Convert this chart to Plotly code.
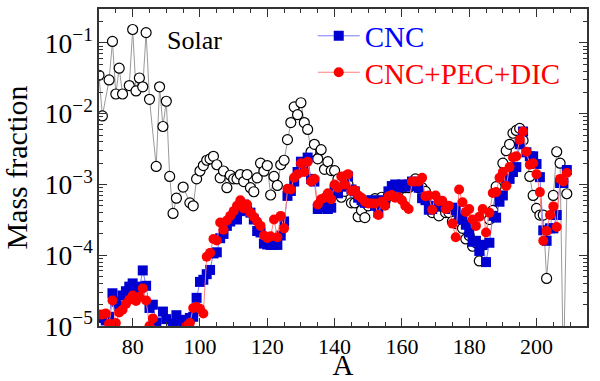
import plotly.graph_objects as go

# ---------------- data ----------------
solar_A = [70, 71, 73, 74, 75, 76, 77, 79, 80, 81, 82, 83, 84, 85, 87, 88, 89, 90, 91, 92, 93, 95, 97, 98, 99,
           100, 101, 102, 103, 104, 105, 106, 107, 108, 109, 110, 111, 112, 113, 114, 115, 116, 117, 118, 119,
           120, 121, 122, 123, 124, 125, 126, 127, 128, 129, 130, 131, 132, 133, 134, 135, 136, 137, 138, 139,
           140, 141, 142, 143, 144, 145, 146, 147, 148, 149, 150, 151, 152, 153, 154, 155, 156, 157, 158, 159,
           160, 161, 162, 163, 164, 165, 166, 167, 168, 169, 170, 171, 172, 173, 174, 175, 176, 177, 178, 179,
           180, 181, 182, 183, 184, 186, 187, 188, 190, 191, 192, 193, 194, 195, 196, 198, 199, 200, 201, 202,
           203, 205, 206, 207, 208, 209]
solar_val = [0.035, 0.0093, 0.030, 0.105, 0.019, 0.044, 0.019, 0.025, 0.155, 0.021, 0.032, 0.024, 0.14, 0.016,
             0.0018, 0.024, 0.0066, 0.015, 0.0013, 0.00039, 0.00064, 0.00092, 0.00055, 0.0005, 0.0012,
             0.00155, 0.00185, 0.0022, 0.0023, 0.0025, 0.0019, 0.00124, 0.00155, 0.0009, 0.00135, 0.0012, 0.0012,
             0.00138, 0.0011, 0.00138, 0.0009, 0.00079, 0.00124, 0.002, 0.00154,
             0.00185, 0.00071, 0.0013, 0.00097, 0.0019, 0.0022, 0.0043, 0.0075, 0.0125, 0.0097, 0.0143, 0.0075,
             0.006, 0.0029, 0.0037, 0.0023, 0.0031, 0.00164, 0.0021, 0.00157,
             0.00157, 0.0012, 0.00066, 0.0008, 0.001, 0.00055, 0.00055, 0.00035, 0.00043, 0.00034, 0.0005, 0.00055,
             0.00063, 0.00055, 0.00066, 0.00058, 0.0007, 0.0007, 0.0008, 0.0008,
             0.0009, 0.0009, 0.0009, 0.001, 0.0012, 0.0009, 0.0009, 0.0008, 0.0006, 0.0004, 0.0006, 0.00036,
             0.0005, 0.0004, 0.0004, 0.0003, 0.00028, 0.0003, 0.00024, 0.00017,
             0.00019, 0.000134, 0.00015, 0.000083, 0.000138, 0.00032, 0.00043, 0.00093, 0.002, 0.003, 0.0037,
             0.0053, 0.0058, 0.0062, 0.0042, 0.0013, 0.0007, 0.00046, 0.00037, 0.00037,
             0.000047, 0.0007, 0.0029, 0.002, 0.000002, 0.00074]

cnc_A = list(range(70, 210))
cnc_val = [1.4e-5, 1.3e-5, 1.2e-5, 1.35e-5, 2.9e-5, 2.2e-5, 1.9e-5, 2.7e-5, 3.1e-5, 3.6e-5,
           4.0e-5, 3.6e-5, 3.4e-5, 6.1e-5, 3.7e-5, 1.8e-5, 2.0e-5, 1.12e-5, 8e-6, 1.6e-5,
           1.25e-5, 8e-6, 1.08e-5, 1.42e-5, 1.22e-5, 1.1e-5, 1.22e-5, 1.3e-5, 1.35e-5, 2.5e-5,
           4.2e-5, 4.5e-5, 5.4e-5, 6.2e-5, 0.000106, 0.00011, 0.000174, 0.0002, 0.00026, 0.0003,
           0.00033, 0.00032, 0.00042, 0.00052, 0.00044, 0.0004, 0.00032, 0.00022, 0.00021, 0.000146,
           0.000142, 0.00014, 0.00014, 0.00014, 0.00019, 0.0003, 0.00069, 0.00081, 0.0011, 0.0015,
           0.0021, 0.0016, 0.0024, 0.0012, 0.0011, 0.00045, 0.00048, 0.00052, 0.00045, 0.00047,
           0.00085, 0.00075, 0.00093, 0.001, 0.0013, 0.00085, 0.0008, 0.00065, 0.0006, 0.00055,
           0.00056, 0.0006, 0.0005, 0.0004, 0.0006, 0.00055, 0.0008, 0.00095, 0.001, 0.0009,
           0.001, 0.00093, 0.001, 0.0011, 0.00095, 0.0009, 0.00064, 0.0006, 0.00044, 0.00045,
           0.0005, 0.00052, 0.0005, 0.00048, 0.00045, 0.00047, 0.00043, 0.00033, 0.00032, 0.00027,
           0.00021, 0.000155, 0.00016, 0.000115, 0.00014, 0.00008, 0.00015, 0.00036, 0.00034, 0.00057,
           0.0007, 0.00108, 0.0012, 0.0015, 0.00176, 0.0037, 0.0056, 0.00285, 0.0025, 0.0025,
           0.00195, 0.00127, 0.000225, 0.00016, 0.00024, 0.00024, 0.00037, 0.00105, 0.00105, 0.0016]

full_A = list(range(70, 210))
full_val = [1.45e-5, 1.45e-5, 1.5e-5, 1.08e-5, 2.3e-5, 1.1e-5, 1.55e-5, 1.7e-5, 2.05e-5, 2.35e-5,
            2.7e-5, 2.25e-5, 2.6e-5, 3.4e-5, 2.3e-5, 1.0e-5, 1.28e-5, 5e-6, 5e-6, 5e-6,
            5e-6, 5e-6, 5e-6, 5e-6, 5e-6, 5e-6, 1.0e-5, 1.1e-5, 1.8e-5, 1.85e-5,
            1.75e-5, 1.5e-5, 9.5e-5, 0.000108, 0.00017, 0.000162, 0.00029, 0.00023, 0.00031, 0.00036,
            0.00042, 0.0005, 0.0006, 0.00046, 0.00052, 0.0004, 0.00035, 0.0003, 0.00026, 0.00019,
            0.000175, 0.000185, 0.00032, 0.00018, 0.00036, 0.00024, 0.00087, 0.00085, 0.00125, 0.0014,
            0.002, 0.0015, 0.0021, 0.0011, 0.0012, 0.00052, 0.00062, 0.00065, 0.00075, 0.00062,
            0.001, 0.0009, 0.0013, 0.001, 0.0014, 0.00081, 0.00083, 0.0007, 0.00065, 0.00057,
            0.00054, 0.00054, 0.00054, 0.00037, 0.00057, 0.0005, 0.00068, 0.00071, 0.00065, 0.00066,
            0.0006, 0.0005, 0.00045, 0.0011, 0.0011, 0.0011, 0.00124, 0.00068, 0.0007, 0.00044,
            0.0007, 0.00058, 0.00059, 0.00045, 0.0005, 0.00028, 0.00018, 0.00085, 0.00056, 0.00041,
            0.00045, 0.00032, 0.00026, 0.00035, 0.00045, 0.00021, 0.0004, 0.00076, 0.00078, 0.00124,
            0.0015, 0.00095, 0.00176, 0.0024, 0.0025, 0.0043, 0.0056, 0.0029, 0.0019, 0.002,
            0.0014, 0.00078, 0.00016, 0.00022, 0.00037, 0.00049, 0.00025, 0.0012, 0.0011, 0.00145]

x_ticks = [80, 100, 120, 140, 160, 180, 200]

FONT = "Liberation Serif, Times New Roman, DejaVu Serif, serif"

fig = go.Figure()
fig.add_trace(go.Scatter(
    x=solar_A, y=solar_val, mode="lines+markers", showlegend=False, name="Solar",
    line=dict(color="#9a9a9a", width=1),
    marker=dict(symbol="circle", size=10, color="white", line=dict(color="black", width=1.2)),
))
fig.add_trace(go.Scatter(
    x=cnc_A, y=cnc_val, mode="lines+markers", legend="legend",
    name="<span style='color:#0000ff'>CNC</span>",
    line=dict(color="#7b7bff", width=1),
    marker=dict(symbol="square", size=10, color="#0000d0"),
))
fig.add_trace(go.Scatter(
    x=full_A, y=full_val, mode="lines+markers", legend="legend2",
    name="<span style='color:#ff0000'>CNC+PEC+DIC</span>",
    line=dict(color="#ff8080", width=1),
    marker=dict(symbol="circle", size=10, color="#ff0000"),
))

axis_common = dict(
    showline=True, linecolor="#333", linewidth=1.5, mirror="ticks",
    ticks="inside", tickcolor="#333", showgrid=False, zeroline=False,
    tickfont=dict(family=FONT, size=22, color="black"),
    automargin=False,
)

fig.update_xaxes(
    range=[70, 215], tickvals=x_ticks, ticklen=8,
    minor=dict(ticks="inside", dtick=5, ticklen=4, tickcolor="#333"),
    title=dict(text="A", font=dict(family=FONT, size=29, color="black"), standoff=4),
    **axis_common,
)
fig.update_yaxes(
    type="log", range=[-5, -0.52], dtick=1, exponentformat="power", ticklen=8,
    minor=dict(ticks="inside", ticklen=4, dtick="D1", tickcolor="#333"),
    title=dict(text="Mass fraction", font=dict(family=FONT, size=30, color="black"), standoff=12),
    **axis_common,
)

fig.add_annotation(
    x=0.135, y=0.954, xref="paper", yref="paper", text="Solar", showarrow=False,
    xanchor="left", yanchor="top",
    font=dict(family=FONT, size=26, color="black"),
)

leg_common = dict(
    xanchor="left", yanchor="middle",
    bgcolor="rgba(0,0,0,0)", borderwidth=0,
    font=dict(family=FONT, size=29),
    itemwidth=42,
)

fig.update_layout(
    width=600, height=381,
    margin=dict(l=99, r=13, t=9, b=55),
    paper_bgcolor="white", plot_bgcolor="white",
    font=dict(family=FONT, color="black"),
    legend=dict(x=0.438, y=0.915, **leg_common),
    legend2=dict(x=0.438, y=0.80, **leg_common),
)

fig.write_html("out.html")
